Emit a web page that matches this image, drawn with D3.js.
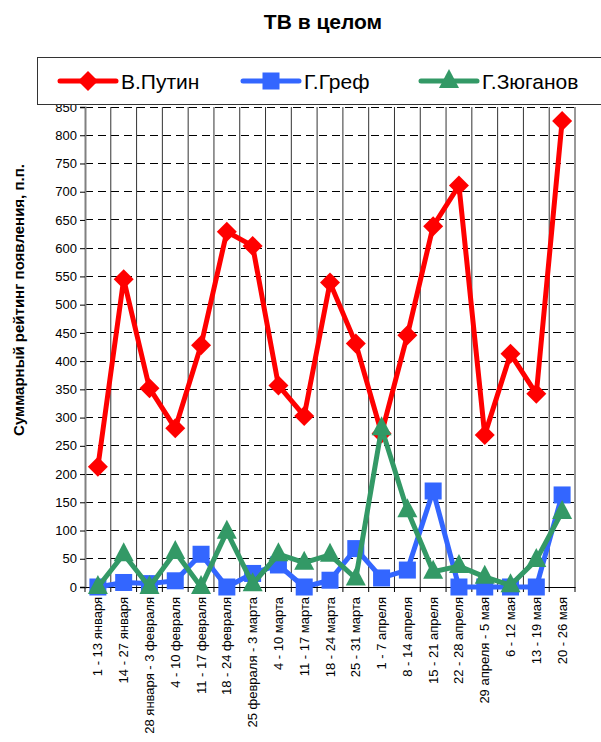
<!DOCTYPE html>
<html><head><meta charset="utf-8">
<script src="https://cdn.jsdelivr.net/npm/d3@7"></script>
<style>body{margin:0;background:#fff;} text{font-family:Arial,"Liberation Sans",sans-serif;}</style>
</head><body>
<svg id="c" width="601" height="742"></svg>
<script>
const categories = ["1 - 13 января","14 - 27 января","28 января - 3 февраля","4 - 10 февраля","11 - 17 февраля","18 - 24 февраля","25 февраля - 3 марта","4 - 10 марта","11 - 17 марта","18 - 24 марта","25 - 31 марта","1 - 7 апреля","8 - 14 апреля","15 - 21 апреля","22 - 28 апреля","29 апреля - 5 мая","6 - 12 мая","13 - 19 мая","20 - 26 мая"];
const putin = [213,545,352,281,428,629,604,357,303,539,431,272,446,639,711,269,413,342,825];
const gref = [0,8,6,11,58,0,24,39,0,12,68,16,30,170,0,0,0,0,163];
const zyuganov = [0,58,0,62,0,98,5,58,43,57,15,281,136,27,37,18,3,48,133];
const yTicks = d3.range(0,851,50);
const seriesNames = ["В.Путин","Г.Греф","Г.Зюганов"];
const colors = ["#ff0000","#3366ff","#339966"];

const svg = d3.select("#c");
const L=85,R=575,T=107,B=587;
const x = d3.scaleBand().domain(categories).range([L,R]);
const y = d3.scaleLinear().domain([0,850]).range([B,T]);

svg.append("g").selectAll("line").data(yTicks.filter(d=>d>0)).join("line")
 .attr("x1",L).attr("x2",R).attr("y1",d=>y(d)).attr("y2",d=>y(d))
 .attr("stroke","#000").attr("stroke-width",1).attr("stroke-dasharray","8,5")
 .attr("shape-rendering","crispEdges");
const bounds = categories.map(c=>x(c)+x.bandwidth()).slice(0,-1).concat([R]);
svg.append("g").selectAll("line").data(bounds).join("line")
 .attr("x1",d=>d).attr("x2",d=>d).attr("y1",T).attr("y2",B)
 .attr("stroke","#333").attr("stroke-width",1);

const ya = svg.append("g").attr("transform",`translate(${L},0)`)
 .call(d3.axisLeft(y).tickValues(yTicks).tickSize(5).tickPadding(3));
ya.select(".domain").attr("stroke","#808080").attr("stroke-width",2);
ya.selectAll(".tick line").attr("stroke","#000");
ya.selectAll("text").attr("font-size","13px").attr("fill","#000").attr("font-family","Arial");

const xa = svg.append("g").attr("transform",`translate(0,${B})`)
 .call(d3.axisBottom(x).tickSize(0).tickFormat(""));
xa.select(".domain").attr("stroke","#000").attr("stroke-width",1);
svg.append("g").selectAll("line").data([L].concat(bounds)).join("line")
 .attr("x1",d=>d).attr("x2",d=>d).attr("y1",B).attr("y2",B+5).attr("stroke","#000");
svg.append("g").selectAll("text").data(categories).join("text")
 .attr("transform",d=>`translate(${x(d)+x.bandwidth()/2+4.5},${B+10}) rotate(-90)`)
 .attr("text-anchor","end").attr("font-size","13px").text(d=>d);

const line = d3.line().x((d,i)=>x(categories[i])+x.bandwidth()/2).y(d=>y(d));
const data=[putin,gref,zyuganov];
function marker(g,k,cx,cy){
  if(k===0){ g.append("path").attr("d",`M${cx},${cy-10}L${cx+10},${cy}L${cx},${cy+10}L${cx-10},${cy}Z`).attr("fill",colors[0]); }
  else if(k===1){ g.append("rect").attr("x",cx-8.5).attr("y",cy-8.5).attr("width",17).attr("height",17).attr("fill",colors[1]); }
  else { g.append("path").attr("d",`M${cx},${cy-12}L${cx+10},${cy+7}L${cx-10},${cy+7}Z`).attr("fill",colors[2]); }
}
data.forEach((arr,k)=>{
  const g=svg.append("g");
  g.append("path").datum(arr).attr("d",line).attr("fill","none").attr("stroke",colors[k]).attr("stroke-width",5).attr("stroke-linejoin","round");
  arr.forEach((v,i)=>marker(g,k,x(categories[i])+x.bandwidth()/2,y(v)));
});

svg.append("text").attr("x",323).attr("y",29).attr("text-anchor","middle").attr("font-size","21px").attr("font-weight","bold").text("ТВ в целом");
svg.append("text").attr("transform","translate(24,300) rotate(-90)").attr("text-anchor","middle").attr("font-size","15px").attr("font-weight","bold").text("Суммарный рейтинг появления, п.п.");

const lg=svg.append("g");
lg.append("rect").attr("x",37.5).attr("y",57.5).attr("width",570).attr("height",47).attr("fill","#fff").attr("stroke","#333").attr("stroke-width",1);
const lx=[60,243,421];
seriesNames.forEach((n,k)=>{
  lg.append("line").attr("x1",lx[k]).attr("x2",lx[k]+56).attr("y1",81).attr("y2",81).attr("stroke",colors[k]).attr("stroke-width",5).attr("stroke-linecap","round");
  marker(lg,k,lx[k]+28,81);
  lg.append("text").attr("x",lx[k]+61).attr("y",88.5).attr("font-size","21px").text(n);
});
</script>
</body></html>
